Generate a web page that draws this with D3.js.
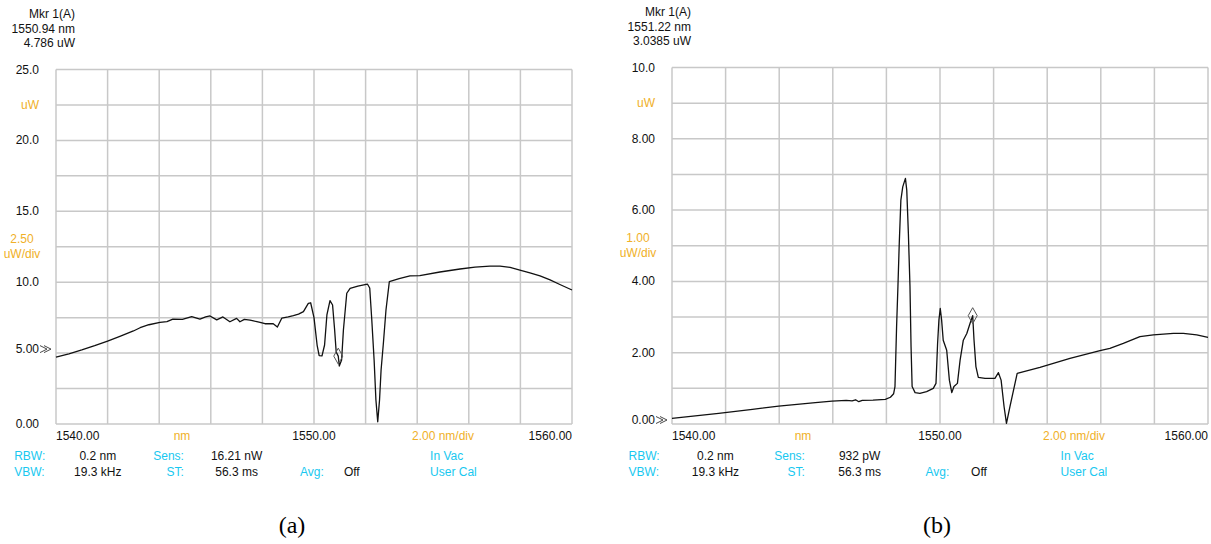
<!DOCTYPE html>
<html>
<head>
<meta charset="utf-8">
<script src="https://cdn.jsdelivr.net/npm/d3@7/dist/d3.min.js"></script>
<style>
  html, body { margin: 0; padding: 0; background: #ffffff; }
  svg { display: block; }
  .inst { font-family: "Liberation Sans", Arial, sans-serif; font-size: 12px; }
</style>
</head>
<body>
<svg id="chart" width="1211" height="544"></svg>
<script>
// ---- Spectrum traces: [wavelength (nm), power (uW)] ----
const traceA = [
  [1540.00, 4.72], [1540.50, 4.95], [1541.00, 5.22], [1541.50, 5.52], [1542.00, 5.85],
  [1542.50, 6.20], [1543.00, 6.56], [1543.26, 6.79], [1543.60, 7.00], [1544.03, 7.17],
  [1544.30, 7.22], [1544.53, 7.40], [1544.90, 7.38], [1545.26, 7.57], [1545.58, 7.40],
  [1545.80, 7.55], [1545.97, 7.62], [1546.23, 7.34], [1546.47, 7.55], [1546.74, 7.21],
  [1547.00, 7.45], [1547.13, 7.21], [1547.30, 7.38], [1547.52, 7.33], [1547.70, 7.25],
  [1547.91, 7.17], [1548.10, 7.07], [1548.42, 7.07], [1548.58, 6.84], [1548.75, 7.46],
  [1549.00, 7.55], [1549.20, 7.64], [1549.40, 7.75], [1549.59, 7.92], [1549.78, 8.51],
  [1549.87, 8.55], [1550.00, 7.50], [1550.12, 5.57], [1550.20, 4.82], [1550.31, 4.80],
  [1550.41, 5.57], [1550.50, 7.69], [1550.62, 8.70], [1550.72, 8.39], [1550.80, 6.63],
  [1550.86, 5.08], [1550.94, 4.786], [1550.98, 4.09], [1551.07, 4.51], [1551.14, 6.63],
  [1551.27, 9.22], [1551.40, 9.57], [1551.70, 9.73], [1552.07, 9.87], [1552.16, 9.59],
  [1552.24, 7.33], [1552.33, 4.51], [1552.40, 1.69], [1552.47, 0.16], [1552.54, 1.69],
  [1552.60, 3.81], [1552.69, 5.71], [1552.79, 8.04], [1552.92, 10.04], [1553.30, 10.25],
  [1553.72, 10.44], [1554.10, 10.47], [1554.88, 10.72], [1555.66, 10.93], [1556.24, 11.07],
  [1556.82, 11.14], [1557.21, 11.14], [1557.60, 11.04], [1557.98, 10.86], [1558.37, 10.65],
  [1558.76, 10.44], [1559.15, 10.16], [1559.53, 9.84], [1560.00, 9.45]
];

const traceB = [
  [1540.00, 0.16], [1541.74, 0.30], [1543.00, 0.41], [1543.98, 0.50], [1545.35, 0.60],
  [1545.97, 0.64], [1546.50, 0.66], [1546.72, 0.65], [1546.85, 0.68], [1546.97, 0.625],
  [1547.10, 0.66], [1547.50, 0.67], [1547.96, 0.69], [1548.15, 0.75], [1548.27, 0.85],
  [1548.32, 1.05], [1548.38, 2.73], [1548.43, 3.85], [1548.48, 5.07], [1548.54, 6.28],
  [1548.61, 6.65], [1548.71, 6.89], [1548.76, 6.56], [1548.82, 5.35], [1548.88, 3.85],
  [1548.92, 2.17], [1548.96, 1.05], [1549.07, 0.88], [1549.25, 0.86], [1549.50, 0.91],
  [1549.75, 1.00], [1549.85, 1.14], [1549.91, 2.26], [1549.96, 2.92], [1550.01, 3.24],
  [1550.06, 2.92], [1550.12, 2.35], [1550.25, 2.07], [1550.35, 1.23], [1550.44, 0.88],
  [1550.52, 1.05], [1550.65, 1.14], [1550.75, 1.79], [1550.87, 2.35], [1551.00, 2.54],
  [1551.12, 2.82], [1551.22, 3.0385], [1551.27, 2.35], [1551.34, 1.61], [1551.43, 1.31],
  [1551.68, 1.28], [1552.05, 1.28], [1552.18, 1.44], [1552.28, 1.23], [1552.39, 0.49],
  [1552.48, 0.02], [1552.61, 0.49], [1552.88, 1.42], [1553.73, 1.59], [1554.85, 1.84],
  [1555.97, 2.06], [1556.34, 2.12], [1556.84, 2.26], [1557.46, 2.45], [1557.96, 2.50],
  [1558.71, 2.54], [1559.08, 2.54], [1559.58, 2.50], [1560.00, 2.43]
];

// ---- Marker readouts ----
const markerA = { nm: 1550.94, uW: 4.786, lines: ["Mkr 1(A)", "1550.94 nm", "4.786 uW"] };
const markerB = { nm: 1551.22, uW: 3.0385, lines: ["Mkr 1(A)", "1551.22 nm", "3.0385 uW"] };

// ---- Axis settings ----
const xDomain = [1540, 1560];
const xDivNm = 2;
const xTickValues = [1540, 1550, 1560];
const xTickLabels = ["1540.00", "1550.00", "1560.00"];
const xUnitLabels = ["nm", "2.00 nm/div"];

const yTicksA = [25, 20, 15, 10, 5, 0];
const yLabelsA = ["25.0", "20.0", "15.0", "10.0", "5.00", "0.00"];
const yTicksB = [10, 8, 6, 4, 2, 0];
const yLabelsB = ["10.0", "8.00", "6.00", "4.00", "2.00", "0.00"];

// ---- Instrument settings rows ----
const settingsA = { sens: "16.21 nW" };
const settingsB = { sens: "932 pW" };

const captions = ["(a)", "(b)"];

const ORANGE = "#f0b028";
const CYAN = "#18c8f0";
const GRID = "#c8c8c8";

const svg = d3.select("#chart");

function drawPanel(o) {
  const g = svg.append("g").attr("class", "inst");
  const x = d3.scaleLinear().domain(xDomain).range([o.left, o.right]);
  const y = d3.scaleLinear().domain([0, o.yMax]).range([o.bottom, o.top]);
  const w = o.right - o.left;

  // grid (10 x 10 divisions)
  const xs = d3.range(xDomain[0], xDomain[1] + 0.001, xDivNm);
  const ys = d3.range(0, o.yMax + 1e-6, o.yMax / 10);
  g.append("g").selectAll("line").data(xs).join("line")
    .attr("x1", d => x(d)).attr("x2", d => x(d))
    .attr("y1", o.top).attr("y2", o.bottom)
    .attr("stroke", GRID).attr("stroke-width", 1.5);
  g.append("g").selectAll("line").data(ys).join("line")
    .attr("x1", o.left).attr("x2", o.right)
    .attr("y1", d => y(d)).attr("y2", d => y(d))
    .attr("stroke", GRID).attr("stroke-width", 1.5);

  // y tick labels
  g.append("g").selectAll("text").data(o.yTicks).join("text")
    .attr("x", o.left - 17)
    .attr("y", (d, i) => y(d) + (d === o.refLevel ? -4 : 0))
    .attr("text-anchor", "end").attr("dominant-baseline", "central")
    .attr("fill", "#111").text((d, i) => o.yLabels[i]);

  // reference level arrow
  const ry = y(o.refLevel) - 4;
  const ax = o.left - 16;
  g.append("path")
    .attr("d", [0, 4].map(k => `M${ax + k},${ry - 3.5}L${ax + k + 7},${ry}L${ax + k},${ry + 3.5}`).join(""))
    .attr("fill", "none").attr("stroke", "#333").attr("stroke-width", 0.9);

  // y unit labels
  g.append("text").attr("x", o.left - 17).attr("y", y(o.yMax * 0.9))
    .attr("text-anchor", "end").attr("dominant-baseline", "central")
    .attr("fill", ORANGE).text("uW");
  g.append("text").attr("x", o.left - 34).attr("y", y(o.yMax / 2) - 8)
    .attr("text-anchor", "middle").attr("dominant-baseline", "central")
    .attr("fill", ORANGE).text(o.perDiv);
  g.append("text").attr("x", o.left - 34).attr("y", y(o.yMax / 2) + 7)
    .attr("text-anchor", "middle").attr("dominant-baseline", "central")
    .attr("fill", ORANGE).text("uW/div");

  // x tick labels
  const ty = o.bottom + 12;
  const anchors = ["start", "middle", "end"];
  g.append("g").selectAll("text").data(xTickValues).join("text")
    .attr("x", d => x(d)).attr("y", ty)
    .attr("text-anchor", (d, i) => anchors[i]).attr("dominant-baseline", "central")
    .attr("fill", "#111").text((d, i) => xTickLabels[i]);
  [1545, 1555].forEach((v, i) => {
    g.append("text").attr("x", x(v) - (i === 0 ? 3 : 0)).attr("y", ty)
      .attr("text-anchor", "middle").attr("dominant-baseline", "central")
      .attr("fill", ORANGE).text(xUnitLabels[i]);
  });

  // settings rows
  const r1 = o.bottom + 32, r2 = o.bottom + 48;
  const rows = [
    { t: "RBW:", fx: -0.081, a: "start", c: CYAN, yy: r1 },
    { t: "0.2 nm", fx: 0.081, a: "middle", c: "#111", yy: r1 },
    { t: "Sens:", fx: 0.248, a: "end", c: CYAN, yy: r1 },
    { t: o.sens, fx: 0.35, a: "middle", c: "#111", yy: r1 },
    { t: "In Vac", fx: 0.725, a: "start", c: CYAN, yy: r1 },
    { t: "VBW:", fx: -0.081, a: "start", c: CYAN, yy: r2 },
    { t: "19.3 kHz", fx: 0.081, a: "middle", c: "#111", yy: r2 },
    { t: "ST:", fx: 0.248, a: "end", c: CYAN, yy: r2 },
    { t: "56.3 ms", fx: 0.35, a: "middle", c: "#111", yy: r2 },
    { t: "Avg:", fx: 0.473, a: "start", c: CYAN, yy: r2 },
    { t: "Off", fx: 0.558, a: "start", c: "#111", yy: r2 },
    { t: "User Cal", fx: 0.725, a: "start", c: CYAN, yy: r2 }
  ];
  g.append("g").selectAll("text").data(rows).join("text")
    .attr("x", d => o.left + d.fx * w).attr("y", d => d.yy)
    .attr("text-anchor", d => d.a).attr("dominant-baseline", "central")
    .attr("fill", d => d.c).text(d => d.t);

  // marker readout
  g.append("g").selectAll("text").data(o.marker.lines).join("text")
    .attr("x", o.left + 19).attr("y", (d, i) => o.top - 55.5 + i * 14.5)
    .attr("text-anchor", "end").attr("dominant-baseline", "central")
    .attr("fill", "#111").text(d => d);

  // trace
  const line = d3.line().x(d => x(d[0])).y(d => y(d[1]));
  g.append("path").datum(o.trace)
    .attr("d", line).attr("fill", "none")
    .attr("stroke", "#111").attr("stroke-width", 1.3)
    .attr("stroke-linejoin", "round");

  // marker diamond
  const mx = x(o.marker.nm), my = y(o.marker.uW);
  g.append("path")
    .attr("d", `M${mx},${my - 8}L${mx + 4.5},${my}L${mx},${my + 8}L${mx - 4.5},${my}Z`)
    .attr("fill", "none").attr("stroke", "#555").attr("stroke-width", 1);

  // caption
  svg.append("text").attr("x", o.captionX).attr("y", 533)
    .attr("text-anchor", "middle")
    .style("font-family", "'Liberation Serif', 'Times New Roman', serif")
    .style("font-size", "24px").attr("fill", "#000").text(o.caption);
}

drawPanel({
  left: 56, right: 572, top: 69.5, bottom: 424, yMax: 25, refLevel: 5,
  yTicks: yTicksA, yLabels: yLabelsA, perDiv: "2.50", sens: settingsA.sens,
  trace: traceA, marker: markerA, caption: captions[0], captionX: 292
});
drawPanel({
  left: 672, right: 1208, top: 67.5, bottom: 424, yMax: 10, refLevel: 0,
  yTicks: yTicksB, yLabels: yLabelsB, perDiv: "1.00", sens: settingsB.sens,
  trace: traceB, marker: markerB, caption: captions[1], captionX: 937
});
</script>
</body>
</html>
